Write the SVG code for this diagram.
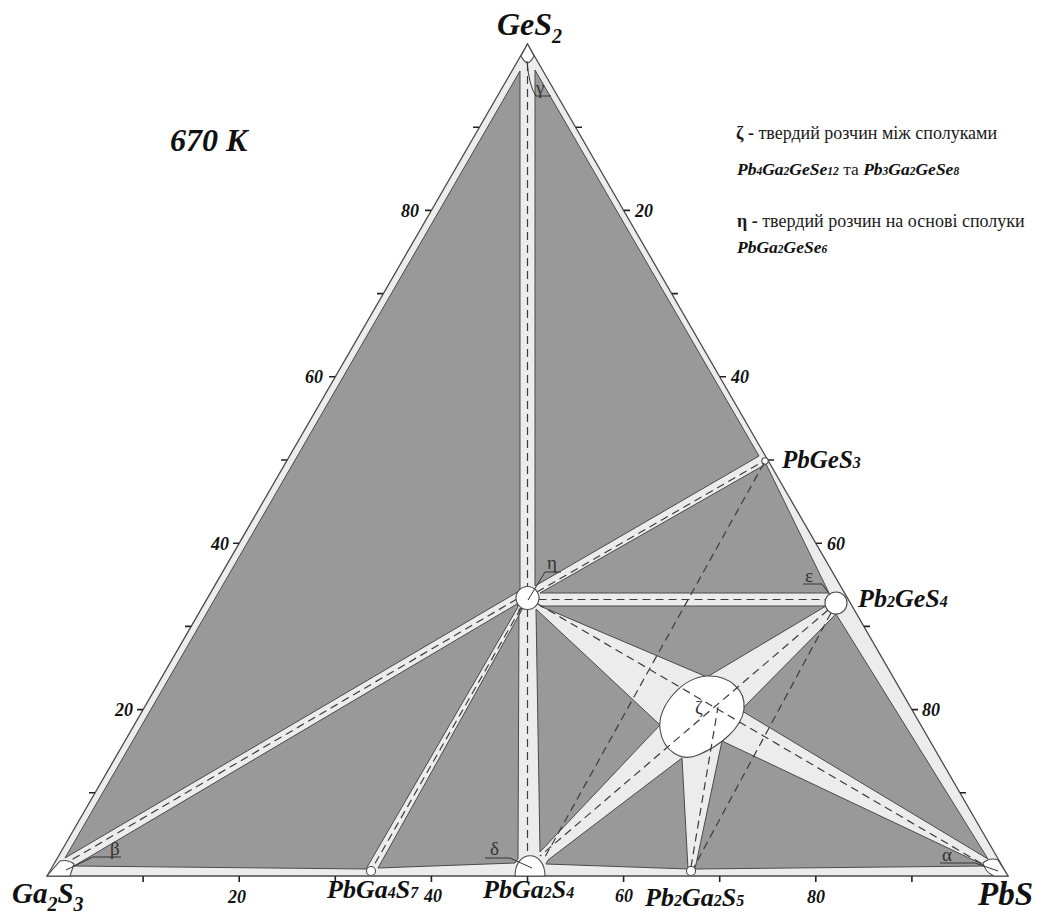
<svg xmlns="http://www.w3.org/2000/svg" width="1037" height="914" viewBox="0 0 1037 914">
<style>
.t{font-family:"Liberation Serif","Times New Roman",serif;fill:#1a1a1a}
.bi{font-family:"Liberation Serif","Times New Roman",serif;font-weight:bold;font-style:italic;fill:#111}
.g{fill:#999;stroke:#4a4a4a;stroke-width:1}
.d{fill:none;stroke:#3c3c3c;stroke-width:1.2;stroke-dasharray:8 5}
.ph{fill:#fff;stroke:#4a4a4a;stroke-width:1.1}
.ld{fill:none;stroke:#333;stroke-width:1}
.tk{stroke:#222;stroke-width:1.6}
.gr{font-family:"Liberation Serif","DejaVu Serif",serif;font-size:19px;fill:#333}
.num{font-family:"Liberation Serif","Times New Roman",serif;font-weight:bold;font-style:italic;font-size:18px;fill:#111}
</style>
<rect width="1037" height="914" fill="#fff"/>
<g id="triangle">
<polygon points="527.5,44 47,876 1008,876" fill="#ececec" stroke="#4a4a4a" stroke-width="1.3"/>
</g>
<g id="ticks">
<path class="tk" d="M143.1,876V882M239.2,876V882M335.3,876V882M431.4,876V882M527.5,876V882M623.6,876V882M719.7,876V882M815.8,876V882M911.9,876V882"/>
<path class="tk" d="M89,792.8H95M137,709.6H143M185,626.4H191M233,543.2H239M281,460H287M329,376.8H335M377,293.6H383M425,210.4H431M473,127.2H479"/>
<path class="tk" d="M576,127.2H582M624,210.4H630M672,293.6H678M720,376.8H726M768,460H774M816,543.2H822M864,626.4H870M912,709.6H918M960,792.8H966"/>
</g>
<g id="tick-labels">
<text class="num" x="237" y="903" text-anchor="middle">20</text>
<text class="num" x="433" y="902" text-anchor="middle">40</text>
<text class="num" x="624" y="902" text-anchor="middle">60</text>
<text class="num" x="816" y="903" text-anchor="middle">80</text>
<text class="num" x="133" y="716" text-anchor="end">20</text>
<text class="num" x="229" y="550" text-anchor="end">40</text>
<text class="num" x="323" y="383" text-anchor="end">60</text>
<text class="num" x="419" y="217" text-anchor="end">80</text>
<text class="num" x="635" y="217">20</text>
<text class="num" x="731" y="383">40</text>
<text class="num" x="827" y="550">60</text>
<text class="num" x="922" y="716">80</text>
</g>
<g id="fields">
<polygon class="g" points="520,71 520,589 516,593 65,858"/>
<polygon class="g" points="535,70 759,456 535,586"/>
<polygon class="g" points="540,593 766,464 829,593"/>
<polygon class="g" points="540,606 826,606 707,677"/>
<polygon class="g" points="744,707 836,614 988,859 742,711"/>
<polygon class="g" points="722,741 986,866 695,869"/>
<polygon class="g" points="682,758 688,869 546,864 548,860"/>
<polygon class="g" points="536,609 660,725 540,852"/>
<polygon class="g" points="523,608 378,868 515,863 518,859 519,609"/>
<polygon class="g" points="517,604 74,866 366,869 518,607"/>
</g>
<g id="phases">
<path id="gamma" class="ph" d="M527.5,44 L534,56 Q531,62 527.5,63 Q524,62 521,56 Z"/>
<path id="beta" class="ph" d="M47,876 L60,861 Q68,859 74,864 L70,876 Z"/>
<path id="alpha" class="ph" d="M983,863 Q990,857 998,860 L1008,876 L994,876 Q985,872 983,863 Z"/>
<circle id="PbGa4S7" class="ph" cx="371" cy="871" r="4.5"/>
<path id="delta" class="ph" d="M515,876 C515,849 545,849 545,876 Z"/>
<circle id="Pb2Ga2S5" class="ph" cx="691" cy="871" r="4.5"/>
<circle id="PbGeS3" class="ph" cx="765" cy="461" r="3.2"/>
<circle id="epsilon" class="ph" cx="836" cy="603" r="11"/>
<path id="zeta" class="ph" d="M707,676 C729,675 746,690 744,709 C742,728 720,746 698,755 C682,762 663,752 660,729 C657,706 683,677 707,676 Z"/>
</g>
<g id="connectors">
<path class="d" d="M527.5,63V587"/>
<path class="d" d="M527.5,609V855"/>
<path class="d" d="M517,599L68,862"/>
<path class="d" d="M521,608L373,867"/>
<path class="d" d="M537,592L762,462"/>
<path class="d" d="M538.5,599.5H825"/>
<path class="d" d="M537,603.5L984,865"/>
<path class="d" d="M828,610L540,856"/>
<path class="d" d="M691,867L718,707"/>
<path class="d" d="M764,463L545,857"/>
<path class="d" d="M831,613L694,867"/>
</g>
<g id="eta">
<circle class="ph" cx="527.5" cy="598" r="11.5"/>
</g>
<g id="greek-labels">
<path class="ld" d="M527,61 Q529,86 536,96 L551,96"/>
<text class="gr" x="536" y="94">γ</text>
<path class="ld" d="M66,870 L93,857 L121,857"/>
<text class="gr" x="110" y="855">β</text>
<path class="ld" d="M532,868 L510,858 L485,858"/>
<text class="gr" x="490" y="855">δ</text>
<path class="ld" d="M940,863 L975,863 L998,871"/>
<text class="gr" x="942" y="861">α</text>
<path class="ld" d="M830,595 L822,584 L803,584"/>
<text class="gr" x="805" y="582">ε</text>
<path class="ld" d="M528,600 L545,572 L561,572"/>
<text class="gr" x="547" y="569">η</text>
<text class="gr" x="695" y="714">ζ</text>
</g>
<g id="vertex-labels">
<text class="bi" x="497" y="35" font-size="32">GeS<tspan font-size="20" dy="8">2</tspan></text>
<text class="bi" x="12" y="903" font-size="29">Ga<tspan font-size="20" dy="8">2</tspan><tspan dy="-8">S</tspan><tspan font-size="20" dy="8">3</tspan></text>
<text class="bi" x="978" y="905" font-size="33">PbS</text>
</g>
<g id="compound-labels">
<text class="bi" x="327" y="898" font-size="26">PbGa<tspan font-size="16">4</tspan>S<tspan font-size="16">7</tspan></text>
<text class="bi" x="483" y="898" font-size="26">PbGa<tspan font-size="16">2</tspan>S<tspan font-size="16">4</tspan></text>
<text class="bi" x="645" y="906" font-size="26">Pb<tspan font-size="16">2</tspan>Ga<tspan font-size="16">2</tspan>S<tspan font-size="16">5</tspan></text>
<text class="bi" x="782" y="468" font-size="25">PbGeS<tspan font-size="16">3</tspan></text>
<text class="bi" x="858" y="607" font-size="26">Pb<tspan font-size="16">2</tspan>GeS<tspan font-size="16">4</tspan></text>
</g>
<g id="title">
<text class="bi" x="170" y="151" font-size="32">670 K</text>
</g>
<g id="legend">
<text class="t" x="736" y="139" font-size="18"><tspan font-weight="bold">ζ -</tspan> твердий розчин між сполуками</text>
<text class="t" x="737" y="175" font-size="17.5"><tspan class="bi">Pb<tspan font-size="11.5">4</tspan>Ga<tspan font-size="11.5">2</tspan>GeSe<tspan font-size="11.5">12</tspan></tspan> та <tspan class="bi">Pb<tspan font-size="11.5">3</tspan>Ga<tspan font-size="11.5">2</tspan>GeSe<tspan font-size="11.5">8</tspan></tspan></text>
<text class="t" x="737" y="227" font-size="18"><tspan font-weight="bold">η -</tspan> твердий розчин на основі сполуки</text>
<text class="t" x="737" y="253" font-size="17.5"><tspan class="bi">PbGa<tspan font-size="11.5">2</tspan>GeSe<tspan font-size="11.5">6</tspan></tspan></text>
</g>
</svg>
